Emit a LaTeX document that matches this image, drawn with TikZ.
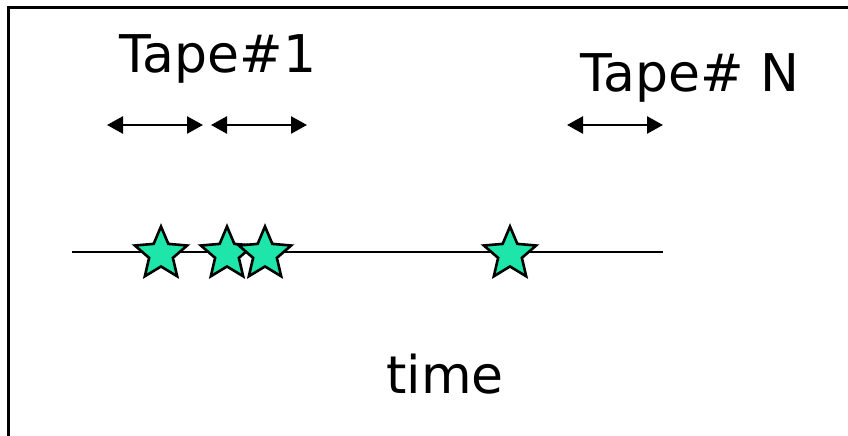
\documentclass[tikz,border=0pt]{standalone}
\usepackage{fontspec}
\setmainfont{DejaVu Sans}
\usetikzlibrary{arrows.meta,shapes.geometric}
\definecolor{starfill}{RGB}{30,230,170}
\tikzset{
  label text/.style={font=\fontsize{52}{60}\selectfont, anchor=base, inner sep=0pt},
  span arrow/.style={line width=2.5pt, {Triangle[length=16pt,width=17pt]}-{Triangle[length=16pt,width=17pt]}},
  event star/.style={star, star points=5, star point ratio=2.2, minimum size=55pt,
    inner sep=0pt, fill=starfill, draw=black, line width=2.6pt},
  frame line/.style={line width=3pt, draw=black}
}
\begin{document}
\begin{tikzpicture}[x=1pt,y=-1pt]
  \useasboundingbox (0,0) rectangle (848,436);
  \begin{scope}
    \clip (0,0) rectangle (848,436);
    \draw[frame line] (8,8) rectangle (870,460);
  \end{scope}

  % tape labels
  \node[label text] (tape1) at (218,72) {Tape\#1};
  \node[label text] (tapeN) at (690,92) {Tape\# N};

  % tape spans
  \coordinate (a1l) at (107,125); \coordinate (a1r) at (203,125);
  \coordinate (a2l) at (211,125); \coordinate (a2r) at (307,125);
  \coordinate (a3l) at (567,125); \coordinate (a3r) at (663,125);
  \draw[span arrow] (a1l) -- (a1r);
  \draw[span arrow] (a2l) -- (a2r);
  \draw[span arrow] (a3l) -- (a3r);

  % time axis
  \coordinate (tstart) at (72,252);
  \coordinate (tend) at (663,252);
  \draw[line width=2.5pt] (tstart) -- (tend);

  % events
  \node[event star] (e1) at (161,254) {};
  \node[event star] (e2) at (227,254) {};
  \node[event star] (e3) at (265,254) {};
  \node[event star] (e4) at (510,254) {};

  \node[label text] (time) at (445,393) {time};
\end{tikzpicture}
\end{document}
